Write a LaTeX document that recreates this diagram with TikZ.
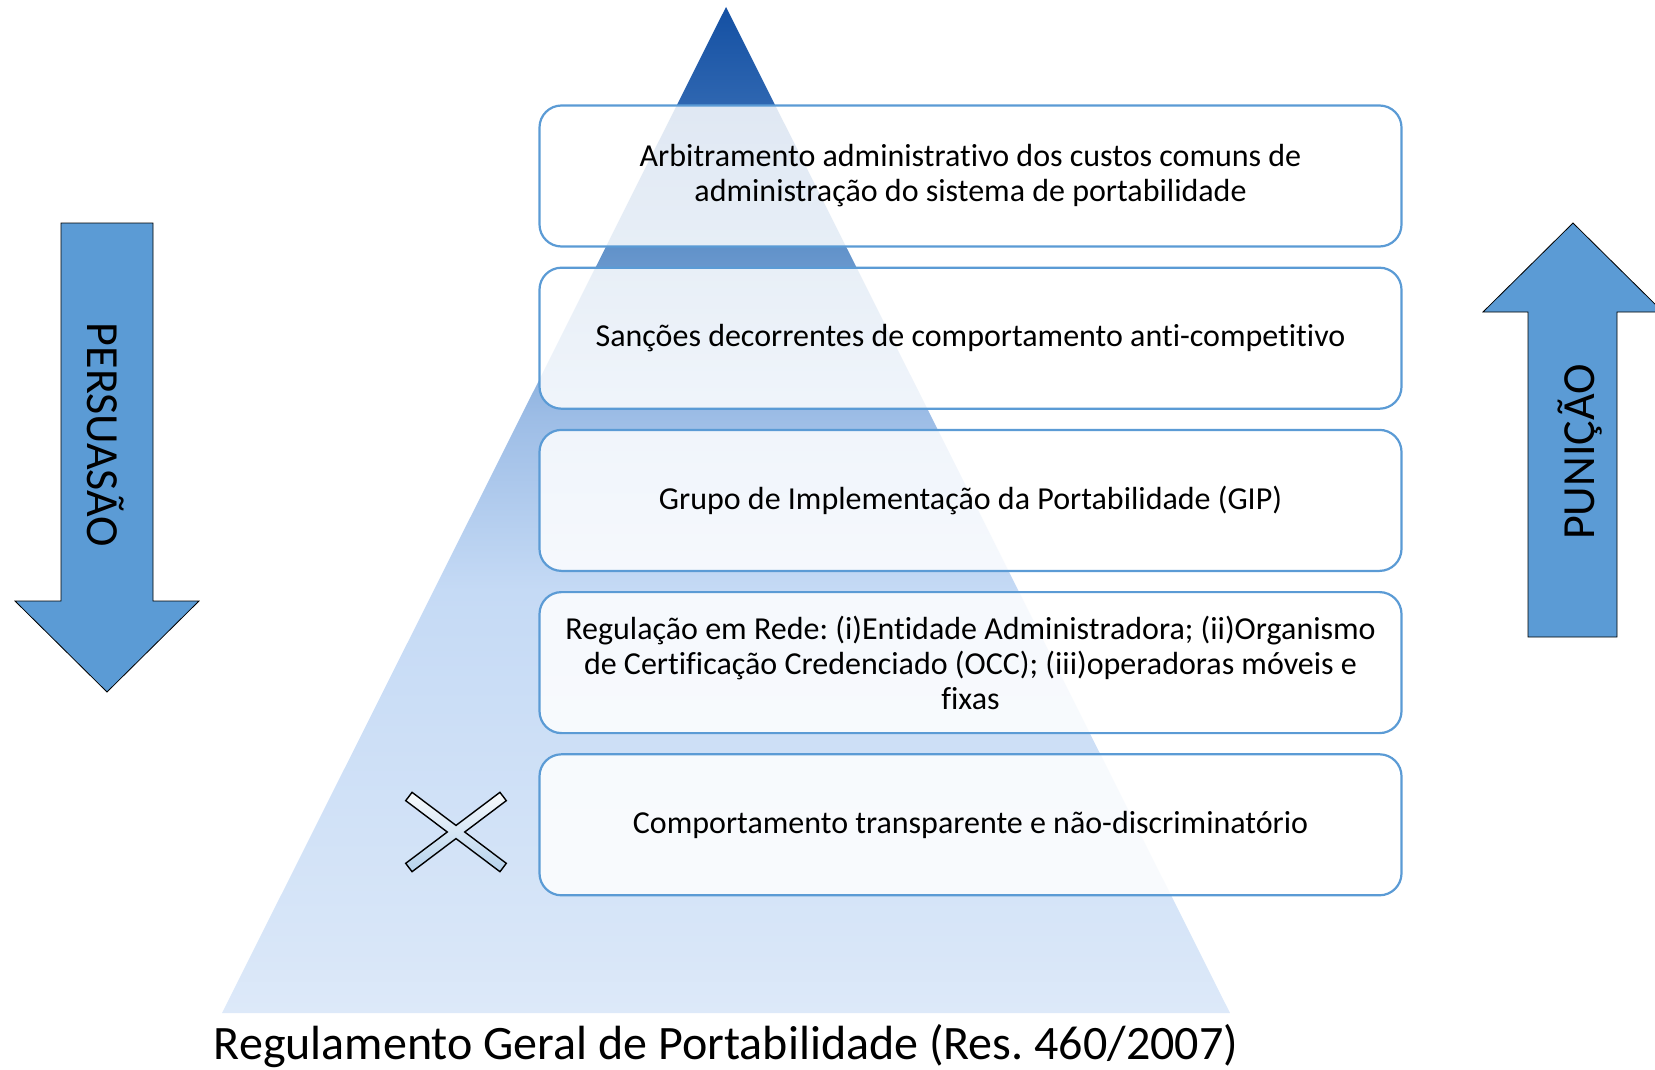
\documentclass[tikz,border=0pt]{standalone}
\usepackage{fontspec}
\setmainfont{Carlito}[Ligatures=NoCommon]
\usepackage{tikz}
\usetikzlibrary{positioning}
\frenchspacing
\definecolor{lvlblue}{HTML}{5B9BD5}
\definecolor{pyrTop}{HTML}{1450A3}\definecolor{pyrT}{HTML}{2D65B0}\definecolor{pyrA}{HTML}{6494CB}
\definecolor{pyrB}{HTML}{9DBDE6}\definecolor{pyrC}{HTML}{C5DAF5}\definecolor{pyrD}{HTML}{D8E6F8}\definecolor{pyrE}{HTML}{DDE9F9}
\pgfdeclareverticalshading{pyramid}{100bp}{color(0bp)=(pyrE); color(25bp)=(pyrE); color(28.1bp)=(pyrD); color(46bp)=(pyrC); color(54.6bp)=(pyrB); color(62.7bp)=(pyrA); color(70.4bp)=(pyrT); color(75bp)=(pyrTop); color(100bp)=(pyrTop)}

\begin{document}
\begin{tikzpicture}[x=0.5pt,y=-0.5pt,
  level/.style={draw=lvlblue,line width=1.1pt,rounded corners=11pt,fill=white,fill opacity=0.85,text opacity=1,
    minimum width=431pt,minimum height=70.5pt,align=center,font=\fontsize{16}{17.5}\selectfont},
  bigarrow/.style={fill=lvlblue,draw=black,line width=0.4pt},
  arrowlabel/.style={anchor=base,font=\fontsize{23}{27}\selectfont},
  node distance=9.5pt]
\useasboundingbox (0,0) rectangle (1655,1070);
% pyramid
\shade[shading=pyramid] (726,7) -- (1230,1013) -- (222,1013) -- cycle;
\node[anchor=base,font=\fontsize{24}{28}\selectfont] (rgp) at (726,1059) {Regulamento Geral de Portabilidade (Res. 460/2007)};
% levels
\node[level] (arb) at (970.5,176) {Arbitramento administrativo dos custos comuns de\\administração do sistema de portabilidade};
\node[level,below=of arb] (sanc) {Sanções decorrentes de comportamento anti-competitivo};
\node[level,below=of sanc] (gip) {Grupo de Implementação da Portabilidade (GIP)};
\node[level,below=of gip] (rede) {Regulação em Rede: (i)Entidade Administradora; (ii)Organismo\\de Certificação Credenciado (OCC); (iii)operadoras móveis e\\fixas};
\node[level,below=of rede] (comp) {Comportamento transparente e não-discriminatório};
% cross
\begin{scope}[shift={(456,832)}]
\draw[top color=white!70!lvlblue!15,bottom color=lvlblue!45,line width=0.7pt,line join=miter]
  (0,6.57) -- (43.96,39.70) -- (50.28,31.32) -- (8.72,0) -- (50.28,-31.32) -- (43.96,-39.70) -- (0,-6.57)
  -- (-43.96,-39.70) -- (-50.28,-31.32) -- (-8.72,0) -- (-50.28,31.32) -- (-43.96,39.70) -- cycle;
\end{scope}
% persuasion arrow
\draw[bigarrow] (61,223) -- (153,223) -- (153,601) -- (199,601) -- (107,692) -- (15,601) -- (61,601) -- cycle;
\node[arrowlabel,rotate=-90] (pers) at (87,435) {PERSUASÃO};
% punishment arrow
\begin{scope}
\clip (0,0) rectangle (1655,1070);
\draw[bigarrow] (1573,223) -- (1663,312) -- (1617,312) -- (1617,637) -- (1528,637) -- (1528,312) -- (1483,312) -- cycle;
\end{scope}
\node[arrowlabel,rotate=90] (pun) at (1594,452) {PUNIÇÃO};
\end{tikzpicture}
\end{document}
